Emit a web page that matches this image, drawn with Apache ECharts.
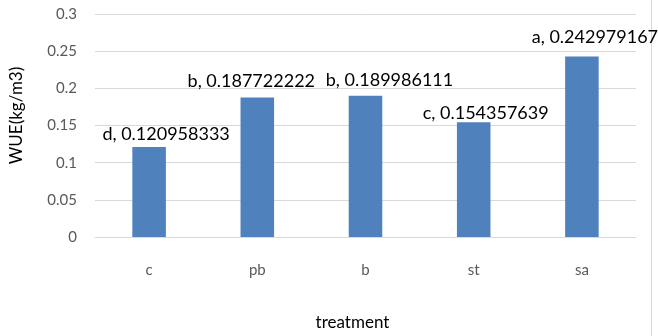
<!DOCTYPE html>
<html>
<head>
<meta charset="utf-8">
<script src="https://cdn.jsdelivr.net/npm/echarts@6/dist/echarts.min.js"></script>
<style>
html, body { margin: 0; padding: 0; background: #fff; }
#chart { width: 658px; height: 336px; }
</style>
</head>
<body>
<div id="chart"></div>
<script>
// 处理组
var categories = ['c', 'pb', 'b', 'st', 'sa'];
var wueValues = [0.120958333, 0.187722222, 0.189986111, 0.154357639, 0.242979167];
var letters = ['d', 'b', 'b', 'c', 'a'];
var yTicks = [0, 0.05, 0.1, 0.15, 0.2, 0.25, 0.3];

// 标签位置微调（原图中标签被手动拖动过）
var labelShift = [[17, -4], [-6, -7], [24, -7], [12, 0], [13, -10]];

var FONT = 'Lato';

var myChart = echarts.init(document.getElementById('chart'), null, { renderer: 'canvas' });

var barData = wueValues.map(function (v, i) {
	return { value: v, label: { offset: labelShift[i] } };
});

var option = {
	animation: false,
	backgroundColor: '#fff',
	grid: { left: 94, right: 22, top: 14, bottom: 93 },
	xAxis: {
		type: 'category',
		data: categories,
		name: 'treatment',
		nameLocation: 'middle',
		nameGap: 77,
		nameTextStyle: { color: '#000', fontSize: 17, fontFamily: FONT, padding: [0, 26, 0, 0] },
		axisLine: { lineStyle: { color: '#D9D9D9', width: 1 } },
		axisTick: { show: false },
		axisLabel: { color: '#595959', fontSize: 15, fontFamily: FONT, margin: 26 }
	},
	yAxis: {
		type: 'value',
		min: yTicks[0],
		max: yTicks[yTicks.length - 1],
		interval: 0.05,
		name: 'WUE(kg/m3)',
		nameLocation: 'middle',
		nameGap: 70,
		nameRotate: 90,
		nameTextStyle: { color: '#000', fontSize: 17, fontFamily: FONT, padding: [0, 0, 0, 20] },
		axisLine: { show: false },
		axisTick: { show: false },
		splitLine: { lineStyle: { color: '#D9D9D9', width: 1 } },
		axisLabel: {
			color: '#595959', fontSize: 15, fontFamily: FONT, margin: 18,
			formatter: function (v) { return String(Math.round(v * 100) / 100); }
		}
	},
	series: [{
		type: 'bar',
		data: barData,
		barWidth: '31%',
		itemStyle: { color: '#4F81BD' },
		label: {
			show: true,
			position: 'top',
			distance: 0,
			color: '#000',
			fontSize: 18,
			fontFamily: FONT,
			formatter: function (p) { return letters[p.dataIndex] + ', ' + p.value; }
		}
	}],
	graphic: [{
		type: 'line',
		shape: { x1: 651.5, y1: 0, x2: 651.5, y2: 336 },
		style: { stroke: '#D9D9D9', lineWidth: 1 }
	}]
};
myChart.setOption(option);
</script>
</body>
</html>
